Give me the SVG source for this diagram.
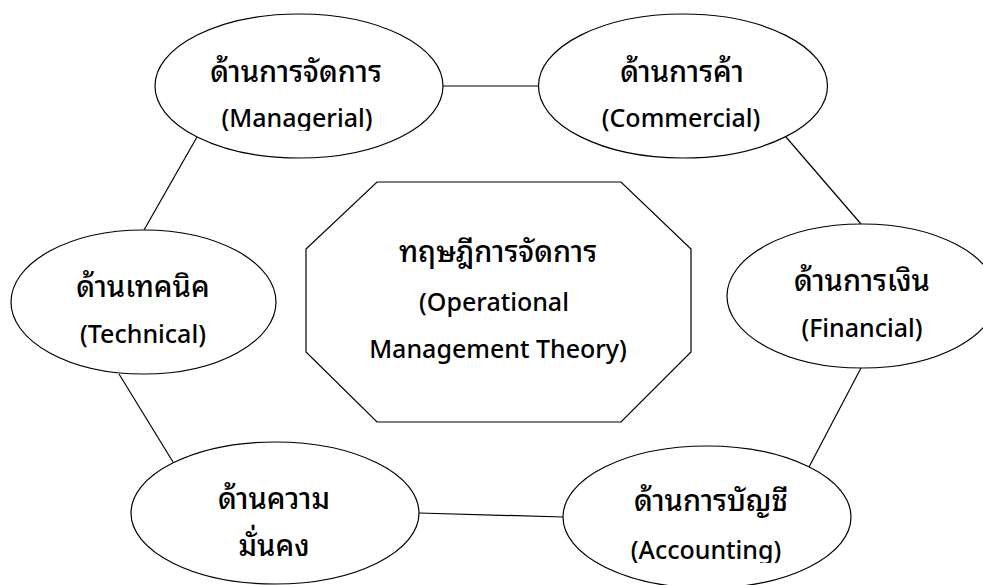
<svg xmlns="http://www.w3.org/2000/svg" width="983" height="585" viewBox="0 0 983 585">
  <style>
    .shape { fill: #ffffff; stroke: #000000; stroke-width: 1.2; }
    .link { stroke: #000000; stroke-width: 1.2; fill: none; }
    .label { font-family: "Noto Sans Thai Looped", "Noto Sans Thai", "Noto Sans", "DejaVu Sans", sans-serif; fill: #000000; text-anchor: middle; font-weight: 500; }
    .th { font-size: 29px; }
    .en { font-size: 25px; }
  </style>
  <defs>
    <!-- text boxes that cut off descenders on the last line -->
    <clipPath id="clipManagerial"><rect x="160" y="95" width="280" height="36"/></clipPath>
    <clipPath id="clipAccounting"><rect x="570" y="525" width="280" height="38"/></clipPath>
  </defs>
  <rect x="0" y="0" width="983" height="585" fill="#ffffff"/>

  <!-- connectors between the six aspects -->
  <g id="connectors">
    <line class="link" x1="443" y1="86" x2="539" y2="86"/>
    <line class="link" x1="786" y1="137" x2="861" y2="224"/>
    <line class="link" x1="861" y1="368" x2="809" y2="467"/>
    <line class="link" x1="563" y1="517" x2="419" y2="513"/>
    <line class="link" x1="173" y1="462" x2="119" y2="374"/>
    <line class="link" x1="144" y1="230" x2="197" y2="137"/>
  </g>

  <!-- central theory -->
  <g id="theory">
    <polygon class="shape" points="377,182 621,182 691,249 691,352 621,422 377,422 306,352 306,249"/>
    <text class="label th" x="498" y="262">ทฤษฎีการจัดการ</text>
    <text class="label en" x="494" y="311">(Operational</text>
    <text class="label en" x="498" y="358">Management Theory)</text>
  </g>

  <g id="managerial">
    <ellipse class="shape" cx="299" cy="86" rx="144" ry="72"/>
    <text class="label th" x="296" y="82">ด้านการจัดการ</text>
    <text class="label en" x="297" y="127" clip-path="url(#clipManagerial)">(Managerial)</text>
  </g>

  <g id="commercial">
    <ellipse class="shape" cx="683" cy="86" rx="144.5" ry="72"/>
    <text class="label th" x="682" y="82">ด้านการค้า</text>
    <text class="label en" x="681" y="127">(Commercial)</text>
  </g>

  <g id="financial">
    <ellipse class="shape" cx="862" cy="296" rx="135" ry="72"/>
    <text class="label th" x="862" y="291">ด้านการเงิน</text>
    <text class="label en" x="862" y="337">(Financial)</text>
  </g>

  <g id="accounting">
    <ellipse class="shape" cx="707" cy="517" rx="144" ry="71"/>
    <text class="label th" x="711" y="511">ด้านการบัญชี</text>
    <text class="label en" x="706" y="559" clip-path="url(#clipAccounting)">(Accounting)</text>
  </g>

  <g id="security">
    <ellipse class="shape" cx="275" cy="513" rx="144" ry="71"/>
    <text class="label th" x="274" y="509">ด้านความ</text>
    <text class="label th" x="274" y="556">มั่นคง</text>
  </g>

  <g id="technical">
    <ellipse class="shape" cx="143.5" cy="302" rx="132.5" ry="72"/>
    <text class="label th" x="143" y="297">ด้านเทคนิค</text>
    <text class="label en" x="143" y="343">(Technical)</text>
  </g>
</svg>
